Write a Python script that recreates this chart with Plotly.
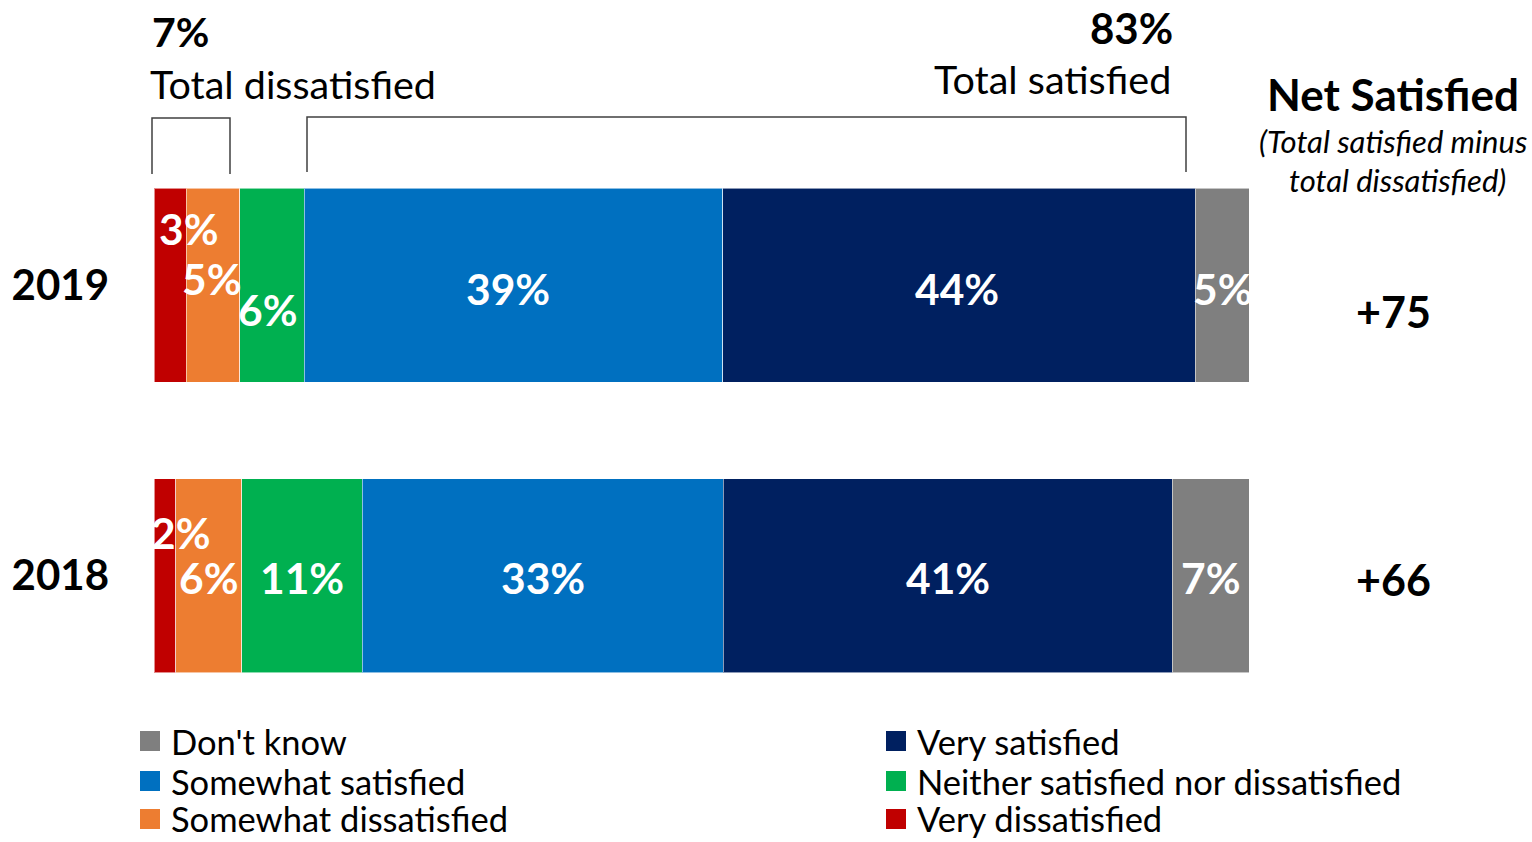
import plotly.graph_objects as go

# Survey results (percent of respondents)
years = ["2018", "2019"]
categories = [
    "Very dissatisfied",
    "Somewhat dissatisfied",
    "Neither satisfied nor dissatisfied",
    "Somewhat satisfied",
    "Very satisfied",
    "Don't know",
]
very_dissatisfied = [2, 3]
somewhat_dissatisfied = [6, 5]
neither = [11, 6]
somewhat_satisfied = [33, 39]
very_satisfied = [41, 44]
dont_know = [7, 5]

total_dissatisfied_2019 = 7
total_satisfied_2019 = 83
net_satisfied = {"2019": "+75", "2018": "+66"}

colors = ["#C00000", "#ED7D31", "#00B050", "#0070C0", "#002060", "#7F7F7F"]
series = [very_dissatisfied, somewhat_dissatisfied, neither,
          somewhat_satisfied, very_satisfied, dont_know]

FONT = "Lato"
W, H = 1532, 842
L, R, T, B = 154, 1249, 140, 721
PW, PH = R - L, B - T


def px(xp):
    return (xp - L) / PW


def py(yp):
    return (B - yp) / PH


fig = go.Figure()
for name, vals, col in zip(categories, series, colors):
    fig.add_trace(go.Bar(
        y=years, x=vals, name=name, orientation="h",
        marker=dict(color=col, line=dict(color="rgba(255,255,255,0.55)", width=1)),
        width=0.668, showlegend=False, hoverinfo="x+name",
    ))

# In-bar value labels, placed at each segment's midpoint (normalised stack)
label_offsets = {
    "2019": [(18, 57), (-2, 7), (-5, -24), (-6, -3), (-2, -3), (0, -3)],
    "2018": [(16, 43), (0, -2), (0, -2), (0, -2), (0, -2), (0, -2)],
}
annotations = []
for yi, yr in enumerate(years):
    vals = [s[yi] for s in series]
    total = sum(vals)
    cum = 0
    for k, v in enumerate(vals):
        mid = (cum + v / 2) / total * 100
        cum += v
        dx, dy = label_offsets[yr][k]
        annotations.append(dict(
            x=mid, y=yi, xref="x", yref="y", text=f"{v}%", showarrow=False,
            xshift=dx, yshift=dy, xanchor="center",
            font=dict(family=FONT, size=42.5, color="white", weight="bold"),
        ))

# Net satisfied column
for yi, yr in enumerate(years):
    dy = -26 if yr == "2019" else -4
    annotations.append(dict(
        x=px(1393), xref="paper", y=yi, yref="y", yshift=dy, text=net_satisfied[yr],
        xanchor="center", showarrow=False,
        font=dict(family=FONT, size=43, color="black", weight="bold"),
    ))

header = [
    (f"{total_dissatisfied_2019}%", 150, 31, "left", 41, "bold", "normal"),
    ("Total dissatisfied", 148, 83, "left", 39.5, "normal", "normal"),
    (f"{total_satisfied_2019}%", 1175, 28, "right", 42, "bold", "normal"),
    ("Total satisfied", 1173, 79, "right", 39.5, "normal", "normal"),
    ("Net Satisfied", 1393, 94, "center", 44, "bold", "normal"),
    ("(Total satisfied minus", 1393, 141, "center", 31, "normal", "italic"),
    ("total dissatisfied)", 1397, 180, "center", 31, "normal", "italic"),
]
for text, xp, yp, anchor, size, weight, style in header:
    annotations.append(dict(
        x=px(xp), y=py(yp), xref="paper", yref="paper", text=text,
        xanchor=anchor, yanchor="middle", showarrow=False,
        font=dict(family=FONT, size=size, color="black", weight=weight, style=style),
    ))

# Legend: two columns, three rows
legend_layout = [
    ("Don't know", 140, 741), ("Very satisfied", 886, 741),
    ("Somewhat satisfied", 140, 781), ("Neither satisfied nor dissatisfied", 886, 781),
    ("Somewhat dissatisfied", 140, 819), ("Very dissatisfied", 886, 819),
]
shapes = []
for name, xp, yp in legend_layout:
    col = colors[categories.index(name)]
    shapes.append(dict(
        type="rect", xref="paper", yref="paper",
        x0=px(xp), x1=px(xp + 20), y0=py(yp + 10), y1=py(yp - 10),
        fillcolor=col, line=dict(width=0),
    ))
    annotations.append(dict(
        x=px(xp + 29), y=py(yp), xref="paper", yref="paper", text=name,
        xanchor="left", yanchor="middle", showarrow=False,
        font=dict(family=FONT, size=34.5, color="black"),
    ))

# Brackets above the 2019 bar
for x0, x1, top, bottom in ((152, 230, 118, 174), (307, 1186, 117, 172)):
    shapes.append(dict(
        type="path", xref="paper", yref="paper",
        path=(f"M {px(x0)} {py(bottom)} L {px(x0)} {py(top)} "
              f"L {px(x1)} {py(top)} L {px(x1)} {py(bottom)}"),
        line=dict(color="#404040", width=1.5),
    ))

fig.update_layout(
    barmode="stack", barnorm="percent",
    width=W, height=H,
    margin=dict(l=L, r=W - R, t=T, b=H - B, pad=0),
    paper_bgcolor="white", plot_bgcolor="white",
    xaxis=dict(range=[0, 100], visible=False, fixedrange=True),
    yaxis=dict(
        type="category", categoryorder="array", categoryarray=years,
        range=[-0.5, 1.5], showgrid=False, zeroline=False, showline=False,
        ticks="", ticklabelstandoff=44,
        tickfont=dict(family=FONT, size=42, color="black", weight="bold"),
    ),
    annotations=annotations, shapes=shapes,
)

fig.write_html("out.html", config={"displayModeBar": False})
